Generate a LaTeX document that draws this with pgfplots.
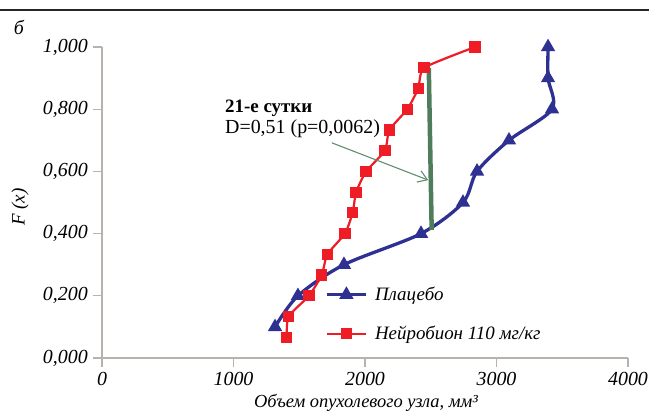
\documentclass[border=0pt]{standalone}
\usepackage{fontspec}
\setmainfont{Liberation Serif}
\usepackage{pgfplots}
\pgfplotsset{compat=1.18}
\usetikzlibrary{arrows.meta}
\definecolor{axgray}{HTML}{B8B2AE}
\definecolor{pblue}{HTML}{2E3192}
\definecolor{nred}{HTML}{EE1C25}
\definecolor{dgreen}{HTML}{4F7D5C}
\definecolor{agreen}{HTML}{5E8F6E}
\begin{document}
\begin{tikzpicture}[x=1bp,y=1bp]
\path[use as bounding box] (0,0) rectangle (649,415);
\draw[line width=1.6bp, black!85] (0,405) -- (649,405);
\node[font=\itshape\fontsize{20}{24}\selectfont] at (19,388) {б};
\node[rotate=90, font=\itshape\fontsize{19}{22}\selectfont] at (20,208) {F (x)};
\node[font=\itshape\fontsize{18.5}{22}\selectfont] at (366,12) {Объем опухолевого узла, мм³};
\begin{axis}[
  at={(102bp,57bp)}, anchor=south west,
  width=526bp, height=311bp, scale only axis,
  xmin=0, xmax=4000, ymin=0, ymax=1,
  axis x line*=bottom, axis y line*=left,
  axis line style={axgray, line width=1.2bp},
  tick align=outside, major tick length=9bp,
  tick style={axgray, line width=1.2bp},
  xtick={0,1000,2000,3000,4000},
  ytick={0,0.2,0.4,0.6,0.8,1},
  scaled ticks=false,
  /pgf/number format/assume math mode=true,
  xticklabel style={/pgf/number format/1000 sep={}, yshift=-3bp},
  yticklabel style={/pgf/number format/.cd, fixed, fixed zerofill, precision=3, use comma, /tikz/.cd, xshift=-3bp},
  ticklabel style={font=\itshape\fontsize{20}{24}\selectfont, inner sep=2bp},
  clip=false,
  legend style={at={(axis cs:1700,0.235)}, anchor=north west, draw=none, fill=none,
    inner sep=0pt, row sep=20bp, font=\itshape\fontsize{19}{22}\selectfont,
    nodes={inner sep=2bp},
    /tikz/every odd column/.append style={column sep=6bp}},
  legend cell align=left,
  legend image code/.code={\draw[mark repeat=2,mark phase=2,#1] plot coordinates {(0bp,0bp)(19bp,0bp)(38bp,0bp)};},
]
\addplot[pblue, line width=3.3bp, smooth, tension=0.5, mark=triangle*, mark size=5bp, mark options={solid}]
coordinates {(1316,0.1)(1490,0.2)(1840,0.3)(2426,0.4)(2745,0.5)(2852,0.6)(3095,0.7)(3422,0.8)(3392,0.9)(3392,1.0)};
\addlegendentry{Плацебо}
\addplot[nred, line width=2.2bp, smooth, tension=0.3, mark=square*, mark size=4.5bp]
coordinates {(1405,0.0667)(1417,0.1333)(1574,0.2)(1671,0.2667)(1713,0.3333)(1848,0.4)(1906,0.4667)(1932,0.5333)(2008,0.6)(2152,0.6667)(2185,0.7333)(2322,0.8)(2405,0.8667)(2449,0.9333)(2837,1.0)};
\addlegendentry{Нейробион 110 мг/кг}
\addplot[dgreen, line width=4.5bp, forget plot] coordinates {(2485,0.932)(2507,0.412)};
\addplot[agreen, line width=1.1bp, -{Straight Barb[length=9bp,width=12bp]}, forget plot] coordinates {(1747,0.692)(2481,0.572)};
\node[anchor=base west, font=\bfseries\fontsize{19}{22}\selectfont, inner sep=0pt] at (axis cs:935,0.788) {21-е сутки};
\node[anchor=base west, font=\fontsize{20}{22}\selectfont, inner sep=0pt] at (axis cs:935,0.723) {D=0,51 (p=0,0062)};
\end{axis}
\end{tikzpicture}
\end{document}
